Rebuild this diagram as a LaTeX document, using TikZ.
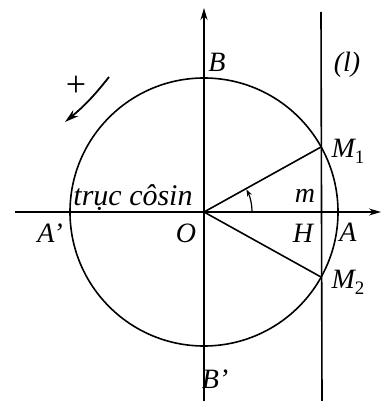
\documentclass[tikz,border=0pt]{standalone}
\usepackage{fontspec}
\setmainfont{Liberation Serif}
\usetikzlibrary{arrows.meta}
\begin{document}
\begin{tikzpicture}[x=1pt,y=-1pt,line width=1.6pt,
  lbl/.style={font=\fontsize{28}{28}\selectfont\itshape,inner sep=0pt},
  tipx/.style={-{Stealth[length=12pt,width=7pt]}}]
\useasboundingbox (0,0) rectangle (382,401);
\coordinate (O) at (204,212);
\coordinate (M1) at (321,147);
\coordinate (M2) at (321,277);
\coordinate (xL) at (15,212);
\coordinate (xR) at (381,212);
\coordinate (yB) at (204,401);
\coordinate (yT) at (204,8);
\coordinate (lT) at (321,12);
\coordinate (lB) at (322,401);
\coordinate (rs) at (109,77);
\coordinate (re) at (65,122);
\draw (O) circle[radius=134];
\draw[tipx] (xL) -- (xR);
\draw[tipx] (yB) -- (yT);
\draw (lT) -- (lB);
\draw (O) -- (M1);
\draw (O) -- (M2);
\draw[line width=1.2pt,-{Stealth[length=7pt,width=5pt]}] ([shift={(0:48)}]O) arc[start angle=0,end angle=-28,radius=48];
\draw[line width=1.8pt,-{Stealth[length=14pt,width=8pt]}] (rs) to[bend left=6] (re);
\node[font=\fontsize{36}{36}\selectfont,inner sep=0pt] (plus) at (76,86) {+};
\node[lbl] (lB) at (217,62) {B};
\node[lbl] (ll) at (347,65) {(l)};
\node[lbl] (lM1) at (348,151) {M\raisebox{-6pt}{\upshape\fontsize{19}{19}\selectfont 1}};
\node[lbl] (lm) at (305,196) {m};
\node[lbl] (lA) at (348,232) {A};
\node[lbl] (lH) at (303,233) {H};
\node[lbl] (lM2) at (348,282) {M\raisebox{-6pt}{\upshape\fontsize{19}{19}\selectfont 2}};
\node[lbl] (lO) at (186,233) {O};
\node[lbl] (lAp) at (50,233) {A'};
\node[lbl] (lBp) at (215,379) {B'};
\node[lbl,font=\fontsize{30}{30}\selectfont\itshape] (lt) at (133,198) {trục côsin};
\end{tikzpicture}
\end{document}
